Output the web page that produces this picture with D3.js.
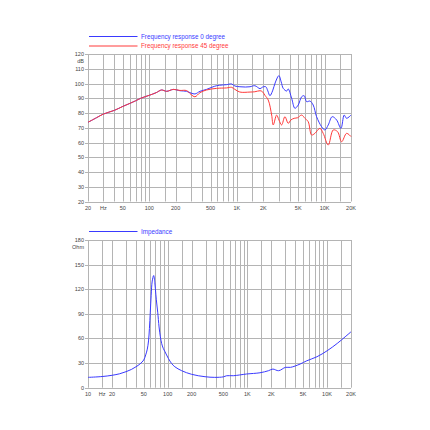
<!DOCTYPE html>
<html><head><meta charset="utf-8">
<script src="https://cdn.jsdelivr.net/npm/d3@7"></script>
<style>
html,body{margin:0;padding:0;background:#fff;}
svg text{font-family:"Liberation Sans",Arial,sans-serif;}
</style></head>
<body>
<svg id="c" width="430" height="430"></svg>
<script>
// ---- Data ----
const freqTicksTop = [20, 30, 50, 100, 200, 500, 1000, 2000, 5000, 10000, 20000];
const freqTickLabelsTop = ["20", "Hz", "50", "100", "200", "500", "1K", "2K", "5K", "10K", "20K"];
const freqTicksBottom = [10, 15, 20, 50, 100, 200, 500, 1000, 2000, 5000, 10000, 20000];
const freqTickLabelsBottom = ["10", "Hz", "20", "50", "100", "200", "500", "1K", "2K", "5K", "10K", "20K"];
const dbTicks = [20, 30, 40, 50, 60, 70, 80, 90, 100, 110, 120];
const ohmTicks = [0, 30, 60, 90, 120, 150, 180];
const seriesNames = ["Frequency response 0 degree", "Frequency response 45 degree", "Impedance"];

const resp0 = [[20,73.7],[25,76.8],[30,79.3],[40,81.8],[50,84.5],[60,86.5],[70,88.3],[80,90],[100,92],[120,93.8],[138,95.6],[158,94.7],[188,96],[224,95.1],[266,94.7],[300,93.5],[332,92.9],[379,94.7],[450,96],[520,97.5],[586,98.5],[680,99],[761,99.2],[869,99.7],[948,98.3],[1080,97.8],[1250,97.6],[1410,97.8],[1600,98.5],[1836,96.5],[1950,97.5],[2130,97.8],[2250,95],[2378,91.7],[2550,95],[2750,101],[3012,105.3],[3200,101],[3373,96.7],[3690,94.9],[3846,96.3],[4205,90],[4583,83.2],[5000,85.4],[5470,91],[5850,91.7],[6230,87.7],[6800,88.1],[7410,85.4],[8100,77.5],[9240,70.7],[10080,68.5],[11000,71.9],[12200,77.5],[13700,75.3],[15350,69.6],[16720,78.6],[17820,76.4],[20000,78.6]];

const resp45 = [[20,73.7],[25,76.8],[30,79.3],[40,81.8],[50,84.5],[60,86.5],[70,88.3],[80,90],[100,92],[120,93.8],[138,95.6],[158,94.7],[188,96],[224,95.3],[266,95.2],[300,92.5],[332,91],[379,93.8],[450,95.6],[586,96.7],[761,97],[869,97.4],[948,96],[1080,94.2],[1410,94.2],[1600,94.4],[1836,95.1],[1950,94.5],[2085,92],[2275,88.8],[2489,78.6],[2594,71.9],[2837,78.6],[3012,75.3],[3234,71.9],[3525,77.5],[3846,73],[4128,75.3],[4500,76.4],[4920,76.8],[5470,78.6],[5960,76.4],[6500,74.1],[7110,65.1],[7750,66.2],[8840,69.6],[9640,66.2],[11000,58.3],[12540,68.5],[14070,67.3],[15630,60.5],[17820,66.2],[20000,64]];

const impedance = [[10,12.6],[15,13.6],[20,15.1],[25,17],[30,19.5],[35,22.2],[40,25.5],[45,29],[50,33.7],[53,40],[55.5,47],[57.5,57],[59,72],[60.5,92],[62,112],[64,130],[66.7,136.7],[69,128],[71,114],[73,102],[75,92],[78,74],[81,62],[84,54],[88,48],[92.6,43.8],[102,35.7],[112,29.5],[123,25.5],[150,20.7],[200,16.3],[294,13.4],[390,12.6],[499,13.2],[550,14.6],[666,14.6],[980,16.7],[1440,18.2],[1840,20.7],[2090,22.7],[2470,20.7],[3010,24.8],[3480,24.8],[4590,28.8],[5570,32.8],[7470,37.7],[10030,45],[13450,54],[16890,62],[20000,68.1]];

// ---- Layout ----
const svg = d3.select("#c");
const gridColor = "#b4b4b4";
const textColor = "#444";
const blue = "#3a3aff";
const red = "#ff3a3a";

function gridLines(lo, hi) {
  const out = [];
  for (let dec = 1; dec <= 100000; dec *= 10) {
    for (const m of [1, 1.5, 2, 3, 4, 5, 6, 7, 8, 9]) {
      const f = m * dec;
      if (f >= lo - 1e-9 && f <= hi + 1e-9) out.push(f);
    }
  }
  return out;
}

function drawPanel(opts) {
  const g = svg.append("g");
  const x = d3.scaleLog().domain(opts.xDomain).range([88, 351]);
  const y = d3.scaleLinear().domain(opts.yDomain).range([opts.yBottom, opts.yTop]);
  g.selectAll(".vg").data(gridLines(opts.xDomain[0], opts.xDomain[1])).enter().append("line")
    .attr("x1", d => Math.round(x(d)) + 0.5).attr("x2", d => Math.round(x(d)) + 0.5)
    .attr("y1", opts.yTop).attr("y2", opts.yBottom)
    .attr("stroke", gridColor).attr("stroke-width", 1);
  g.selectAll(".hg").data(opts.yTicks).enter().append("line")
    .attr("x1", 85).attr("x2", 351)
    .attr("y1", d => Math.round(y(d)) + 0.5).attr("y2", d => Math.round(y(d)) + 0.5)
    .attr("stroke", gridColor).attr("stroke-width", 1);
  g.selectAll(".yl").data(opts.yTicks).enter().append("text")
    .attr("x", 84).attr("y", d => y(d) + 2)
    .attr("text-anchor", "end").attr("font-size", 5.5).attr("fill", textColor)
    .text(d => d);
  g.append("text").attr("x", 84).attr("y", y(opts.yDomain[1]) + 9)
    .attr("text-anchor", "end").attr("font-size", 5.5).attr("fill", textColor)
    .text(opts.unit);
  g.selectAll(".xl").data(opts.xTicks).enter().append("text")
    .attr("x", d => x(d)).attr("y", opts.yBottom + 8)
    .attr("text-anchor", "middle").attr("font-size", 5.5).attr("fill", textColor)
    .text((d, i) => opts.xLabels[i]);
  const line = d3.line().x(d => x(d[0])).y(d => y(d[1])).curve(d3.curveCatmullRom.alpha(0.5));
  opts.series.forEach(s => {
    g.append("path").datum(s.data).attr("d", line)
      .attr("fill", "none").attr("stroke", s.color).attr("stroke-width", 1);
  });
  opts.series.forEach((s, i) => {
    const ly = opts.legendY + i * 9.5;
    g.append("line").attr("x1", 89).attr("x2", 137.5).attr("y1", ly).attr("y2", ly)
      .attr("stroke", s.color).attr("stroke-width", 1);
    g.append("text").attr("x", 141).attr("y", ly + 2.2).attr("font-size", 6.3)
      .attr("fill", s.color).text(s.name);
  });
}

drawPanel({
  xDomain: [20, 20000], yDomain: [20, 120], yTop: 54, yBottom: 201.5,
  yTicks: dbTicks, unit: "dB", xTicks: freqTicksTop, xLabels: freqTickLabelsTop,
  legendY: 36.5,
  series: [
    {name: seriesNames[0], color: blue, data: resp0},
    {name: seriesNames[1], color: red, data: resp45}
  ]
});

drawPanel({
  xDomain: [10, 20000], yDomain: [0, 180], yTop: 240, yBottom: 387.7,
  yTicks: ohmTicks, unit: "Ohm", xTicks: freqTicksBottom, xLabels: freqTickLabelsBottom,
  legendY: 231.5,
  series: [
    {name: seriesNames[2], color: blue, data: impedance}
  ]
});
</script>
</body></html>
